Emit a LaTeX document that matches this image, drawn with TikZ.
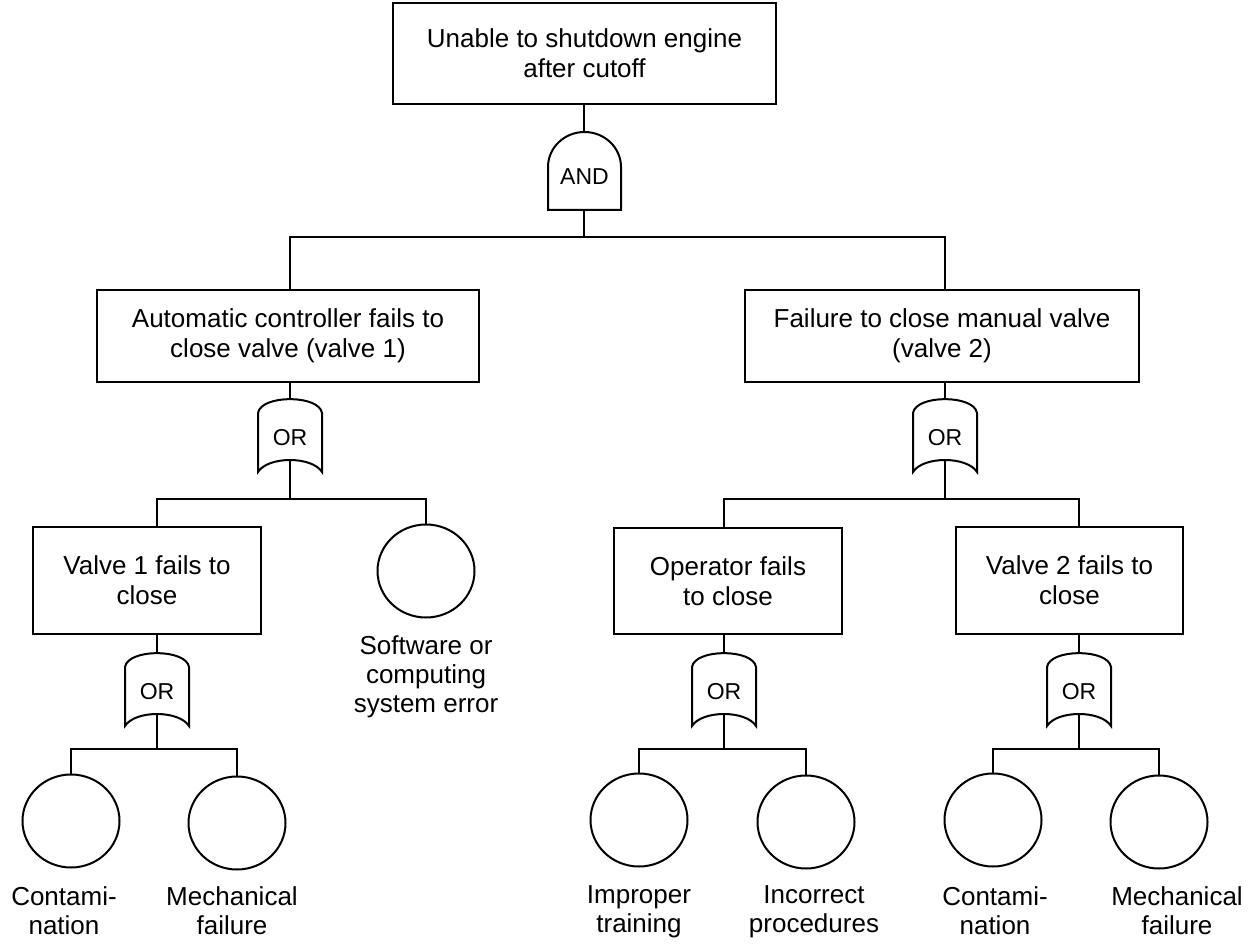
\documentclass[tikz,border=0pt]{standalone}
\usepackage{fontspec}
\setmainfont{Liberation Sans}
\usetikzlibrary{shapes.geometric}
\tikzset{
  ln/.style={line width=2pt},
  boxnode/.style={draw, line width=2pt, align=center, inner sep=0pt,
    font=\fontsize{26}{30}\selectfont},
  event/.style={draw, ellipse, line width=2pt, inner sep=0pt,
    minimum width=97pt, minimum height=93pt},
  lbl/.style={align=center, inner sep=0pt, font=\fontsize{26}{29}\selectfont},
  gatetext/.style={inner sep=0pt, font=\fontsize{23}{26}\selectfont}
}
\newcommand{\ORgate}[3]{%
  \coordinate (#1-in) at (#2,#3-14);
  \coordinate (#1-out) at (#2,#3+47);
  \node[gatetext] (#1) at (#2,#3+25) {OR};
  \draw[line width=2pt] (#2-32,#3) .. controls +(3,-18.5) and +(-3,-18.5) .. ++(64,0)
     -- ++(0,59) .. controls +(-10,-16) and +(10,-16) .. ++(-64,0) -- cycle;}
\begin{document}
\begin{tikzpicture}[x=1pt,y=-1pt]
\useasboundingbox (0,0) rectangle (1255,944);
% top event
\node[boxnode, minimum width=383pt, minimum height=101pt] (top) at (584.5,53.5)
  {Unable to shutdown engine\\after cutoff};
% AND gate
\coordinate (and-in) at (584,132);
\coordinate (and-out) at (584,210);
\node[gatetext] (and) at (584.5,177) {AND};
\draw[line width=2pt] (548,210) -- (548,167) .. controls (548,147.7) and (564.3,132) .. (584.5,132)
   .. controls (604.7,132) and (621,147.7) .. (621,167) -- (621,210) -- cycle;
% level 2
\node[boxnode, minimum width=382pt, minimum height=92pt] (b21) at (288,336)
  {Automatic controller fails to\\close valve (valve 1)};
\node[boxnode, minimum width=394pt, minimum height=92pt] (b22) at (942,336)
  {Failure to close manual valve\\(valve 2)};
\ORgate{g1}{290}{413}
\ORgate{g2}{945}{413}
% level 3
\node[boxnode, minimum width=228pt, minimum height=107pt] (v1) at (147,580.5)
  {Valve 1 fails to\\close};
\node[event] (sw) at (426,571) {};
\node[lbl] (swl) at (426,677) {Software or\\computing\\system error};
\node[boxnode, minimum width=228pt, minimum height=106pt] (op) at (728,581)
  {Operator fails\\to close};
\node[boxnode, minimum width=227pt, minimum height=107pt] (v2) at (1069.5,580.5)
  {Valve 2 fails to\\close};
\ORgate{g3}{157}{667}
\ORgate{g4}{724}{667}
\ORgate{g5}{1079}{667}
% basic events
\node[event] (c1) at (71,821) {};
\node[event] (c2) at (237,823) {};
\node[event] (c3) at (639,820) {};
\node[event] (c4) at (806,822) {};
\node[event] (c5) at (993,820) {};
\node[event] (c6) at (1159,822) {};
\node[lbl] (l1) at (64,911) {Contami-\\nation};
\node[lbl] (l2) at (232,911) {Mechanical\\failure};
\node[lbl] (l3) at (639,912) {Improper\\training};
\node[lbl] (l4) at (814,912) {Incorrect\\procedures};
\node[lbl] (l5) at (995,911) {Contami-\\nation};
\node[lbl] (l6) at (1177,911) {Mechanical\\failure};
% junctions
\coordinate (jA) at (584,237);
\coordinate (jB) at (290,499);
\coordinate (jC) at (945,499);
\coordinate (jD) at (157,749);
\coordinate (jE) at (724,749);
\coordinate (jF) at (1079,749);
% connectors
\draw[ln] (top.south -| and-in) -- (and-in);
\draw[ln] (and-out) -- (jA);
\draw[ln] (b21.north -| g1) |- (jA) -| (b22.north -| g2);
\draw[ln] (b21.south -| g1) -- (g1-in);
\draw[ln] (b22.south -| g2) -- (g2-in);
\draw[ln] (g1-out) -- (jB);
\draw[ln] (g2-out) -- (jC);
\draw[ln] (v1.north -| g3) |- (jB) -| (sw.north);
\draw[ln] (op.north -| g4) |- (jC) -| (v2.north -| g5);
\draw[ln] (v1.south -| g3) -- (g3-in);
\draw[ln] (op.south -| g4) -- (g4-in);
\draw[ln] (v2.south -| g5) -- (g5-in);
\draw[ln] (g3-out) -- (jD);
\draw[ln] (g4-out) -- (jE);
\draw[ln] (g5-out) -- (jF);
\draw[ln] (c1.north) |- (jD) -| (c2.north);
\draw[ln] (c3.north) |- (jE) -| (c4.north);
\draw[ln] (c5.north) |- (jF) -| (c6.north);
\end{tikzpicture}
\end{document}
